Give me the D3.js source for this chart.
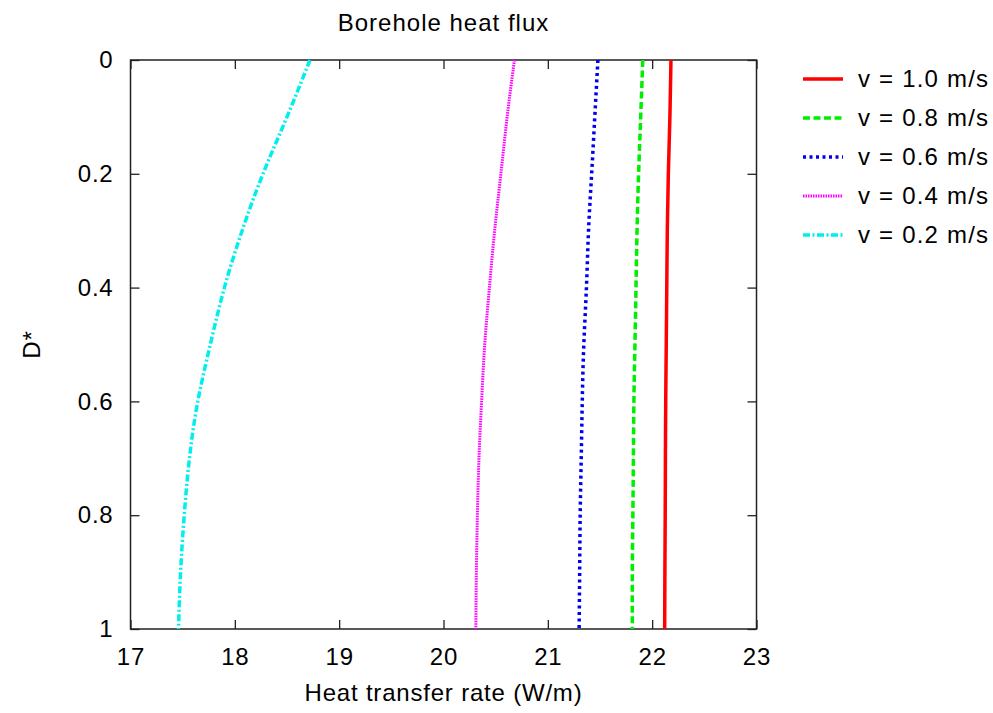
<!DOCTYPE html>
<html>
<head>
<meta charset="utf-8">
<script src="https://cdn.jsdelivr.net/npm/d3@7"></script>
<style>
  body { margin: 0; background: #fff; }
  text { font-family: "Liberation Sans", Arial, sans-serif; fill: #000; }
</style>
</head>
<body>
<script>
// depth (D*) and heat transfer rate for each flow velocity
const depth = [0, 0.1, 0.2, 0.3, 0.4, 0.5, 0.6, 0.7, 0.8, 0.9, 1.0];
const v10 = [22.18, 22.17, 22.155, 22.145, 22.14, 22.135, 22.13, 22.127, 22.125, 22.122, 22.12];
const v08 = [21.91, 21.89, 21.87, 21.855, 21.845, 21.835, 21.825, 21.82, 21.815, 21.81, 21.81];
const v06 = [21.48, 21.45, 21.42, 21.39, 21.37, 21.345, 21.33, 21.32, 21.31, 21.305, 21.30];
const v04 = [20.68, 20.61, 20.55, 20.49, 20.44, 20.395, 20.365, 20.34, 20.325, 20.315, 20.31];
const v02 = [18.72, 18.50, 18.27, 18.07, 17.90, 17.765, 17.645, 17.565, 17.515, 17.48, 17.46];
const seriesNames = ["v = 1.0 m/s", "v = 0.8 m/s", "v = 0.6 m/s", "v = 0.4 m/s", "v = 0.2 m/s"];
const xTicks = [17, 18, 19, 20, 21, 22, 23];
const yTicks = [0, 0.2, 0.4, 0.6, 0.8, 1];

const series = [
  { name: seriesNames[0], values: v10, color: "#ff0000", width: 3.5, dash: null },
  { name: seriesNames[1], values: v08, color: "#00ee00", width: 3.5, dash: "7,3.5" },
  { name: seriesNames[2], values: v06, color: "#0000ee", width: 3.5, dash: "3,3.5" },
  { name: seriesNames[3], values: v04, color: "#ff00ff", width: 3, dash: "1.5,1" },
  { name: seriesNames[4], values: v02, color: "#00eeee", width: 3.5, dash: "7,2.5,2,2.5" }
];

const W = 993, H = 713;
const mLeft = 130.5, mRight = 756.5, mTop = 60, mBottom = 629;

const svg = d3.select("body").append("svg").attr("width", W).attr("height", H);

const x = d3.scaleLinear().domain([17, 23]).range([mLeft, mRight]);
const y = d3.scaleLinear().domain([0, 1]).range([mTop, mBottom]);

// ticks inside the frame on all four sides
svg.append("g").attr("transform", `translate(0,${mBottom})`)
  .call(d3.axisBottom(x).tickValues(xTicks).tickSize(-9).tickPadding(19).tickFormat(d3.format("d")))
  .call(g => g.select(".domain").remove());
svg.append("g").attr("transform", `translate(0,${mTop})`)
  .call(d3.axisTop(x).tickValues(xTicks).tickSize(-9).tickFormat(""))
  .call(g => g.select(".domain").remove());
svg.append("g").attr("transform", `translate(${mLeft},0)`)
  .call(d3.axisLeft(y).tickValues(yTicks).tickSize(-9).tickPadding(17).tickFormat(d => d === 0 || d === 1 ? d : d3.format(".1f")(d)))
  .call(g => g.select(".domain").remove());
svg.append("g").attr("transform", `translate(${mRight},0)`)
  .call(d3.axisRight(y).tickValues(yTicks).tickSize(-9).tickFormat(""))
  .call(g => g.select(".domain").remove());

svg.selectAll(".tick line").attr("stroke", "#222").attr("stroke-width", 1.3);
svg.selectAll(".tick text")
  .style("font-size", "24px")
  .style("letter-spacing", "0.8px")
  .attr("fill", "#000");

svg.append("rect")
  .attr("x", mLeft).attr("y", mTop)
  .attr("width", mRight - mLeft).attr("height", mBottom - mTop)
  .attr("fill", "none").attr("stroke", "#222").attr("stroke-width", 1.5);

const line = d3.line()
  .x(d => x(d[0]))
  .y(d => y(d[1]))
  .curve(d3.curveNatural);

svg.append("g").selectAll("path")
  .data(series)
  .join("path")
  .attr("d", s => line(s.values.map((v, i) => [v, depth[i]])))
  .attr("fill", "none")
  .attr("stroke", s => s.color)
  .attr("stroke-width", s => s.width)
  .attr("stroke-dasharray", s => s.dash);

// legend
const key = svg.append("g").selectAll("g")
  .data(series)
  .join("g")
  .attr("transform", (s, i) => `translate(803,${79 + i * 39})`);
key.append("line")
  .attr("x1", 0).attr("x2", 40)
  .attr("stroke", s => s.color)
  .attr("stroke-width", s => s.width)
  .attr("stroke-dasharray", s => s.dash);
key.append("text")
  .attr("x", 55).attr("dy", "0.35em")
  .style("font-size", "24px")
  .style("letter-spacing", "1.2px")
  .text(s => s.name);

svg.append("text")
  .attr("x", (mLeft + mRight) / 2).attr("y", 31)
  .attr("text-anchor", "middle")
  .style("font-size", "24px")
  .style("letter-spacing", "1px")
  .text("Borehole heat flux");

svg.append("text")
  .attr("x", (mLeft + mRight) / 2).attr("y", 701)
  .attr("text-anchor", "middle")
  .style("font-size", "24px")
  .style("letter-spacing", "0.8px")
  .text("Heat transfer rate (W/m)");

svg.append("text")
  .attr("transform", `translate(40,${(mTop + mBottom) / 2}) rotate(-90)`)
  .attr("text-anchor", "middle")
  .style("font-size", "24px")
  .style("letter-spacing", "1px")
  .text("D*");
</script>
</body>
</html>
